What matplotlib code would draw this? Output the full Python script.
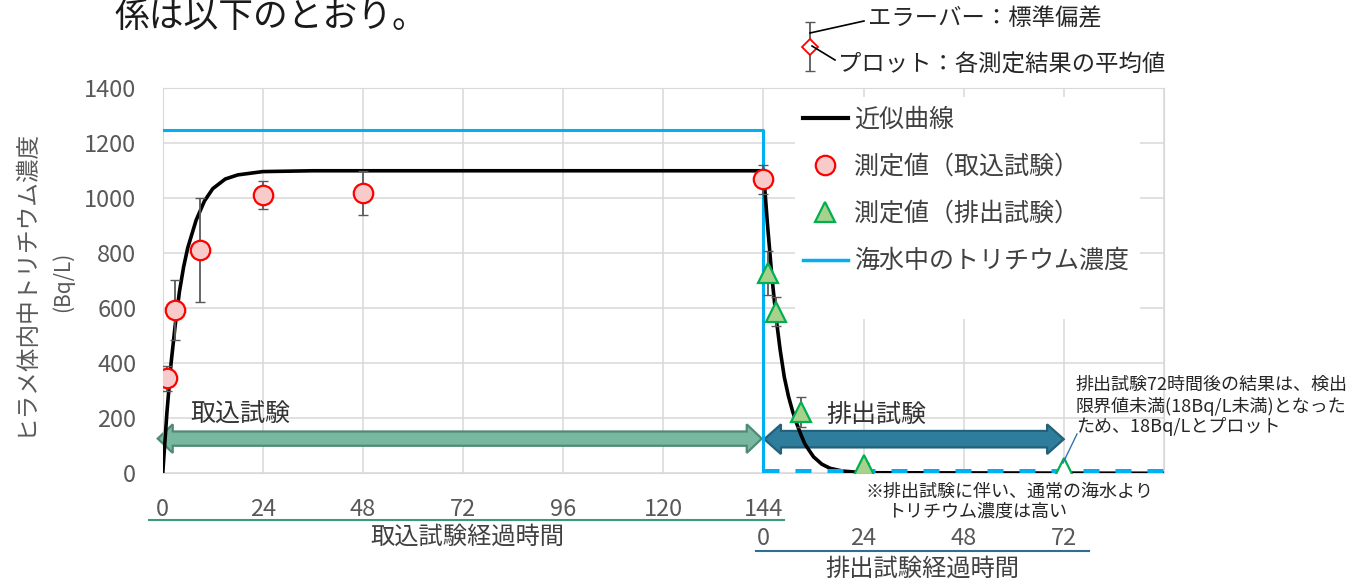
import numpy as np
import matplotlib.pyplot as plt
import matplotlib.patches as mpatches
from matplotlib.lines import Line2D

plt.rcParams['font.family'] = ['Noto Sans CJK JP', 'DejaVu Sans']

# uptake test: hours since start, mean and standard deviation (Bq/L)
uptake_hours = [1, 3, 9, 24, 48, 144]
uptake_mean = [345, 594, 812, 1012, 1018, 1069]
uptake_sd = [45, 108, 190, 50, 80, 52]

# excretion test: hours since transfer to clean water
excr_hours = [1, 3, 9, 24]
excr_mean = [727, 588, 224, 30]
excr_sd = [80, 52, 55, 8]
# 72 h result was below detection limit -> plotted as 18
nd_hours = [72]
nd_value = [18]

# approximation curve
curve_up_hours = [0, 1, 2, 3, 4, 5, 6, 8, 10, 12, 15, 18, 24, 36, 144]
curve_up_value = [0, 220, 400, 540, 660, 750, 820, 920, 990, 1035, 1070, 1085, 1097, 1100, 1100]
curve_ex_hours = [0, 1, 2, 3, 4, 5, 6, 7, 8, 9, 10, 12, 14, 16, 19, 24, 96]
curve_ex_value = [1100, 900, 720, 570, 450, 350, 280, 225, 180, 140, 105, 60, 33, 18, 8, 2, 0]

# tritium in the sea water
sea_uptake = 1250
sea_excretion = 8

uptake_ticks = [0, 24, 48, 72, 96, 120, 144]
excr_ticks = [0, 24, 48, 72]
switch = 144      # end of uptake / start of excretion
excr_end = 72
x_max = 240

legend_labels = ['近似曲線', '測定値（取込試験）', '測定値（排出試験）', '海水中のトリチウム濃度']
nd_note = ['排出試験72時間後の結果は、検出', '限界値未満(18Bq/L未満)となった', 'ため、18Bq/Lとプロット']
sea_note = ['※排出試験に伴い、通常の海水より', 'トリチウム濃度は高い']

GRAY = '#595959'
DARK = '#333333'
CYAN = '#00b0f0'

fig = plt.figure(figsize=(13.46, 5.81), dpi=100)
ax = fig.add_axes([0.1209, 0.1854, 0.7438, 0.6627])
ax.set_xlim(0, x_max)
ax.set_ylim(0, 1400)
ax.set_xticks(np.arange(0, x_max + 1, 24))
ax.set_yticks(np.arange(0, 1401, 200))
ax.grid(color='#d9d9d9', lw=1.1)
ax.set_axisbelow(True)
ax.tick_params(length=0, labelbottom=False, labelsize=17, labelcolor=GRAY, pad=19)
for s in ax.spines.values():
    s.set_color('#d9d9d9')


def double_arrow(x0, x1, y, half_shaft, half_head, head_len, fc, ec):
    xs = [x0, x0 + head_len, x0 + head_len, x1 - head_len, x1 - head_len,
          x1, x1 - head_len, x1 - head_len, x0 + head_len, x0 + head_len]
    ys = [y, y + half_head, y + half_shaft, y + half_shaft, y + half_head,
          y, y - half_head, y - half_shaft, y - half_shaft, y - half_head]
    ax.add_patch(mpatches.Polygon(np.column_stack([xs, ys]), closed=True, fc=fc, ec=ec,
                                  lw=1.6, zorder=2.5, clip_on=False))


double_arrow(-1.2, switch - 0.4, 126, 26, 52, 3.6, '#78b8a0', '#4f8a74')
double_arrow(switch + 0.2, switch + excr_end, 124, 30, 54, 4.0, '#2f7d9c', '#23607a')
ax.text(6.5, 212, '取込試験', fontsize=18, color=DARK, va='center', ha='left')
ax.text(159, 212, '排出試験', fontsize=18, color=DARK, va='center', ha='left')

# sea water
ax.plot([0, switch, switch], [sea_uptake, sea_uptake, sea_excretion], color=CYAN, lw=2.2, zorder=3)

# approximation curve
ax.plot(curve_up_hours, curve_up_value, color='black', lw=2.6, zorder=3)
ax.plot(switch + np.array(curve_ex_hours), curve_ex_value, color='black', lw=2.6, zorder=3)
ax.plot([switch, x_max], [sea_excretion, sea_excretion], color=CYAN, lw=3.6,
        dashes=(3.2, 3.2), zorder=3.5)

# measurements
ax.errorbar(uptake_hours, uptake_mean, yerr=uptake_sd, fmt='none', ecolor=GRAY,
            elinewidth=1.3, capsize=3.5, zorder=4)
ax.plot(uptake_hours, uptake_mean, 'o', ms=14, mfc='#f9caca', mec='#ff0000', mew=1.6, zorder=5)
ex_x = switch + np.array(excr_hours)
ax.errorbar(ex_x, excr_mean, yerr=excr_sd, fmt='none', ecolor=GRAY,
            elinewidth=1.3, capsize=3.5, zorder=4)
ax.plot(ex_x, excr_mean, '^', ms=14, mfc='#a9d18e', mec='#00b050', mew=1.6, zorder=5)
ax.plot(switch + np.array(nd_hours), nd_value, '^', ms=14, mfc='white', mec='#00b050',
        mew=1.6, zorder=5)

# x axis labels (two time scales)
xt = ax.get_xaxis_transform()
for t in uptake_ticks:
    ax.text(t, -0.095, str(t), transform=xt, ha='center', va='center', fontsize=17,
            color=GRAY, clip_on=False)
for t in excr_ticks:
    ax.text(switch + t, -0.169, str(t), transform=xt, ha='center', va='center', fontsize=17,
            color=GRAY, clip_on=False)
ax.plot([-3.4, switch + 5], [-0.121, -0.121], transform=xt, color='#3b9a7a', lw=1.5, clip_on=False)
ax.plot([switch - 1.8, switch + excr_end + 6], [-0.201, -0.201], transform=xt, color='#2e6f8e',
        lw=1.5, clip_on=False)
ax.text(73, -0.165, '取込試験経過時間', transform=xt, ha='center', va='center', fontsize=17.5,
        color='#404040', clip_on=False)
ax.text(182, -0.247, '排出試験経過時間', transform=xt, ha='center', va='center', fontsize=17.5,
        color='#404040', clip_on=False)

# legend: white area hiding the grid, then the entries on top
ax.add_patch(mpatches.Rectangle((151.6, 560), 82.7, 810, fc='white', ec='none', zorder=1))
handles = [Line2D([], [], color='black', lw=3),
           Line2D([], [], ls='none', marker='o', ms=14, mfc='#f9caca', mec='#ff0000', mew=1.6),
           Line2D([], [], ls='none', marker='^', ms=14, mfc='#a9d18e', mec='#00b050', mew=1.6),
           Line2D([], [], color=CYAN, lw=2.5)]
leg = ax.legend(handles, legend_labels, loc='upper left', bbox_to_anchor=(795 / 1346, 1 - 99 / 581),
                bbox_transform=fig.transFigure, frameon=False, fontsize=18, handlelength=1.8,
                handletextpad=0.25, labelspacing=0.85, borderpad=0.3, borderaxespad=0)
for txt in leg.get_texts():
    txt.set_color('#404040')

# y label
fig.text(25 / 1346, 1 - 282 / 581, 'ヒラメ体内中トリチウム濃度', rotation=90, ha='center', va='center',
         fontsize=17, color=GRAY)
fig.text(63 / 1346, 1 - 282 / 581, '(Bq/L)', rotation=90, ha='center', va='center',
         fontsize=15, color=GRAY)

# overlay in pixel coordinates for the annotations around the chart
ov = fig.add_axes([0, 0, 1, 1])
ov.set_xlim(0, 1346)
ov.set_ylim(581, 0)
ov.axis('off')

ov.text(114, 17, '係は以下のとおり。', fontsize=25, va='center', ha='left', color='#1a1a1a')

ov.errorbar([810], [47], yerr=[[25], [24]], fmt='none', ecolor=GRAY, elinewidth=1.3, capsize=3.5)
ov.plot([810], [47], marker='D', ms=8, mfc='white', mec='#ff0000', mew=1.3)
ov.plot([810, 864], [33, 21], color='black', lw=1.2)
ov.plot([812, 835], [46, 60], color='black', lw=1.2)
ov.text(868, 19, 'エラーバー：標準偏差', fontsize=16.8, va='center', ha='left', color='#262626')
ov.text(838, 65, 'プロット：各測定結果の平均値', fontsize=16.8, va='center', ha='left', color='#262626')

for i, line in enumerate(nd_note):
    ov.text(1076, 385 + 21 * i, line, fontsize=13, va='center', ha='left', color='#262626')
ov.plot([1063, 1077], [463, 434], color='#2e75b6', lw=1)
ov.text(866, 492, sea_note[0], fontsize=13, va='center', ha='left', color='#262626')
ov.text(887, 512, sea_note[1], fontsize=13, va='center', ha='left', color='#262626')

fig.savefig('out.png', dpi=100)
